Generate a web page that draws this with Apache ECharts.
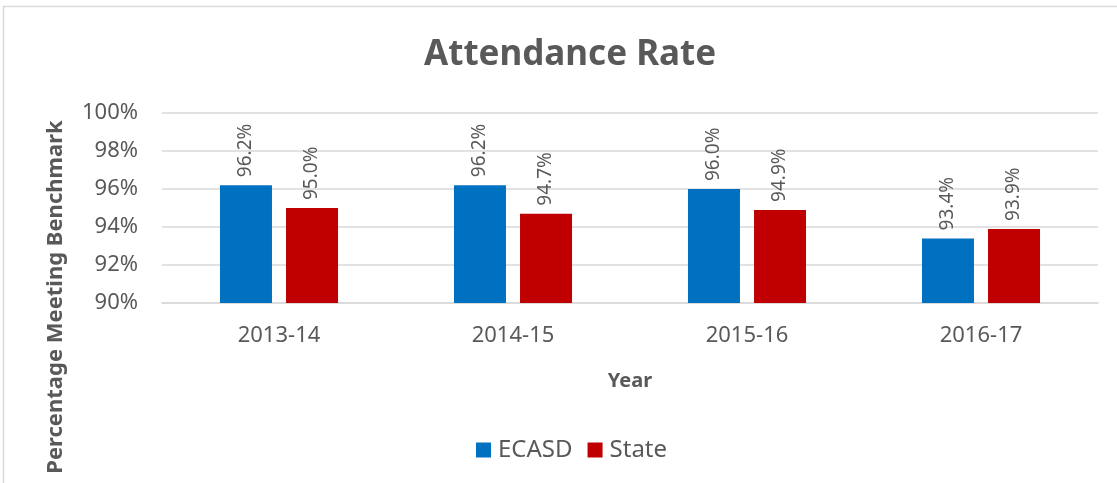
<!DOCTYPE html>
<html>
<head>
<meta charset="utf-8">
<script src="https://cdn.jsdelivr.net/npm/echarts@6/dist/echarts.min.js"></script>
<style>
  html, body { margin: 0; padding: 0; background: #fff; }
  #chartBox { width: 1117px; height: 483px; }
</style>
</head>
<body>
<div id="chartBox"></div>
<script>
  // data
  var years = ['2013-14', '2014-15', '2015-16', '2016-17'];
  var ecasd = [96.2, 96.2, 96.0, 93.4];
  var state = [95.0, 94.7, 94.9, 93.9];
  var seriesNames = ['ECASD', 'State'];

  var textGrey = '#595959';
  var font = 'Noto Sans';

  var chart = echarts.init(document.getElementById('chartBox'));

  var labelOpt = {
    show: true,
    position: 'top',
    rotate: 90,
    align: 'left',
    verticalAlign: 'middle',
    distance: 8,
    color: textGrey,
    fontFamily: font,
    fontSize: 19,
    formatter: function (p) { return p.value.toFixed(1) + '%'; }
  };

  var option = {
    backgroundColor: '#fff',
    textStyle: { fontFamily: font },
    graphic: [{
      type: 'rect',
      shape: { x: 3.5, y: 6.5, width: 1120, height: 490 },
      style: { fill: 'none', stroke: '#d9d9d9', lineWidth: 1.5 },
      silent: true
    }, {
      // y axis title, centred on the whole chart height as in the reference
      type: 'text',
      x: 56,
      y: 297,
      rotation: Math.PI / 2,
      style: {
        text: 'Percentage Meeting Benchmark',
        fill: textGrey,
        font: 'bold 22px "Noto Sans"',
        align: 'center',
        verticalAlign: 'middle'
      },
      silent: true
    }],
    title: {
      text: 'Attendance Rate',
      left: 419,
      top: 33,
      textStyle: { color: textGrey, fontSize: 35, fontWeight: 'bold', fontFamily: font }
    },
    legend: {
      data: seriesNames,
      bottom: 16,
      left: 471,
      itemWidth: 15,
      itemHeight: 15,
      itemGap: 15,
      icon: 'rect',
      textStyle: { color: textGrey, fontSize: 24, fontFamily: font, padding: [0, 0, 0, 2] }
    },
    grid: { left: 162, right: 19, top: 113, bottom: 180 },
    xAxis: {
      type: 'category',
      data: years,
      name: 'Year',
      nameLocation: 'middle',
      nameGap: 68,
      nameTextStyle: { color: textGrey, fontSize: 20, fontWeight: 'bold', fontFamily: font },
      axisLine: { lineStyle: { color: '#d9d9d9', width: 1.5 } },
      axisTick: { show: false },
      axisLabel: { color: textGrey, fontSize: 22, margin: 22, fontFamily: font }
    },
    yAxis: {
      type: 'value',
      min: 90,
      max: 100,
      interval: 2,
      axisLine: { show: false },
      axisTick: { show: false },
      axisLabel: {
        color: textGrey, fontSize: 22, margin: 24, fontFamily: font,
        formatter: function (v) { return v + '%'; }
      },
      splitLine: { lineStyle: { color: '#d9d9d9', width: 1.5 } }
    },
    series: [
      {
        name: seriesNames[0],
        type: 'bar',
        data: ecasd,
        barWidth: 52,
        barGap: '27%',
        itemStyle: { color: '#0070c0' },
        label: labelOpt
      },
      {
        name: seriesNames[1],
        type: 'bar',
        data: state,
        barWidth: 52,
        itemStyle: { color: '#c00000' },
        label: labelOpt
      }
    ]
  };

  chart.setOption(option);
</script>
</body>
</html>
